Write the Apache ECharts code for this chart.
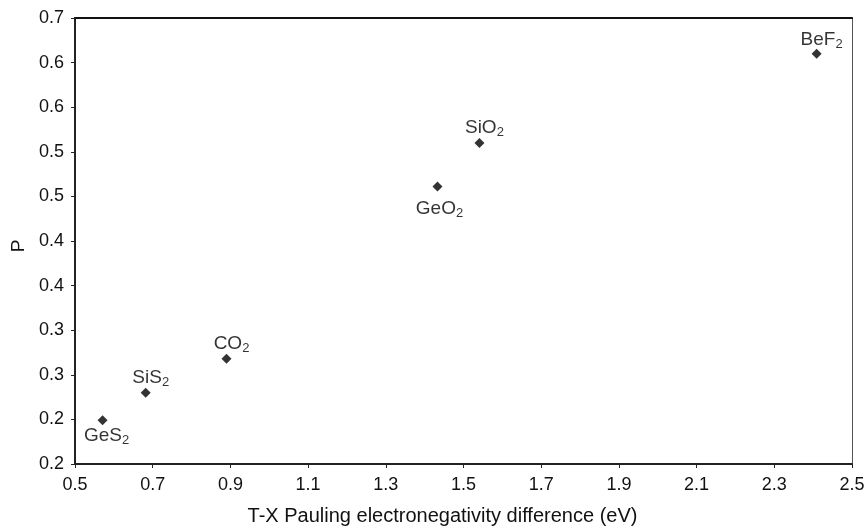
<!DOCTYPE html>
<html lang="en">
<head>
<meta charset="utf-8">
<script src="https://cdn.jsdelivr.net/npm/echarts@6/dist/echarts.min.js"></script>
<style>
  html, body { margin: 0; padding: 0; background: #fff; }
  #main { width: 866px; height: 526px; }
</style>
</head>
<body>
<div id="main"></div>
<script>
// compounds and their values
var names = ['GeS', 'SiS', 'CO', 'GeO', 'SiO', 'BeF'];
var xValues = [0.571, 0.682, 0.890, 1.433, 1.541, 2.409];
var yValues = [0.249, 0.280, 0.318, 0.511, 0.560, 0.660];
var labelPos = ['bottom', 'top', 'top', 'bottom', 'top', 'top'];

// y tick labels as printed (one decimal)
var yTickLabels = ['0.2', '0.2', '0.3', '0.3', '0.4', '0.4', '0.5', '0.5', '0.6', '0.6', '0.7'];

var chart = echarts.init(document.getElementById('main'));

var font = 'Liberation Sans, Arial, sans-serif';

var points = [];
for (var i = 0; i < names.length; i++) {
    var lbl = { position: labelPos[i], offset: [5, 5] };
    if (i === 0) { lbl.offset = [4, -5]; }
    if (i === 3) { lbl.offset = [2, 2]; }
    if (i === 5) { lbl.offset = [5, 6]; }
    points.push({ value: [xValues[i], yValues[i]], name: names[i], label: lbl });
}

var option = {
    animation: false,
    grid: { left: 75, right: 14, top: 18, bottom: 62, outerBoundsMode: 'none' },
    xAxis: [
        {
            type: 'value',
            min: 0.5, max: 2.5, interval: 0.2,
            name: 'T-X Pauling electronegativity difference (eV)',
            nameLocation: 'middle',
            nameGap: 42,
            nameTextStyle: { fontFamily: font, fontSize: 20, color: '#111', padding: [0, 42, 0, 0] },
            axisLine: { lineStyle: { color: '#222', width: 2 } },
            axisTick: { length: 4, lineStyle: { color: '#222' } },
            axisLabel: {
                fontFamily: font, fontSize: 18, color: '#111', margin: 12,
                formatter: function (v) { return v.toFixed(1); }
            },
            splitLine: { show: false }
        },
        {
            type: 'value', position: 'top',
            min: 0.5, max: 2.5,
            axisLine: { show: true, lineStyle: { color: '#111', width: 2 } },
            axisTick: { show: false }, axisLabel: { show: false }, splitLine: { show: false }
        }
    ],
    yAxis: [
        {
            type: 'value',
            min: 0.2, max: 0.7, interval: 0.05,
            name: 'P',
            nameLocation: 'middle',
            nameGap: 46,
            nameTextStyle: { fontFamily: font, fontSize: 19, color: '#111', padding: [0, 10, 0, 0] },
            axisLine: { show: true, lineStyle: { color: '#222', width: 2 } },
            axisTick: { show: true, length: 4, lineStyle: { color: '#222' } },
            axisLabel: {
                fontFamily: font, fontSize: 18, color: '#111', margin: 11,
                formatter: function (v) {
                    return yTickLabels[Math.round((v - 0.2) / 0.05)];
                }
            },
            splitLine: { show: false }
        },
        {
            type: 'value', position: 'right',
            min: 0.2, max: 0.7,
            axisLine: { show: true, lineStyle: { color: '#555', width: 1 } },
            axisTick: { show: false }, axisLabel: { show: false }, splitLine: { show: false }
        }
    ],
    series: [
        {
            type: 'scatter',
            symbol: 'diamond',
            symbolSize: 10,
            itemStyle: { color: '#000' },
            data: points,
            label: {
                show: true,
                distance: 3,
                color: '#000',
                formatter: function (p) { return '{m|' + p.name + '}{s|2}'; },
                rich: {
                    m: { fontFamily: font, fontSize: 19, color: '#000', lineHeight: 24 },
                    s: { fontFamily: font, fontSize: 13, color: '#000', padding: [10, 0, 0, 0], lineHeight: 24 }
                }
            }
        }
    ]
};

chart.setOption(option);
</script>
</body>
</html>
